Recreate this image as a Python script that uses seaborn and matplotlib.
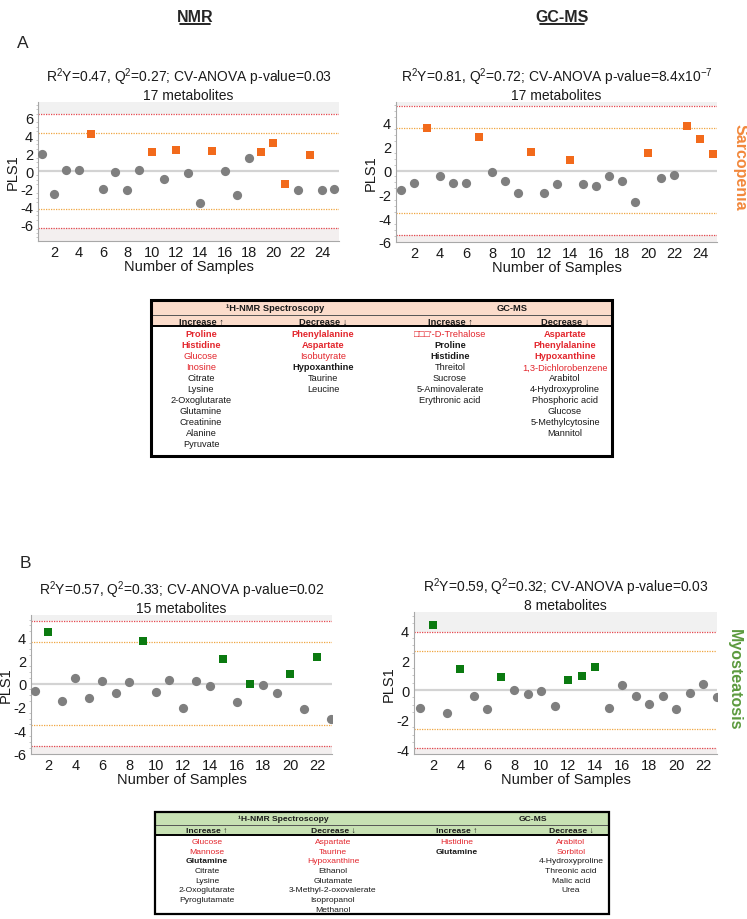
import seaborn as sns
import numpy as np
import pandas as pd
import matplotlib.pyplot as plt
from matplotlib.patches import Rectangle
from matplotlib.ticker import AutoMinorLocator

#---------- DATA ----------
#PLS1 scores (sample 1..n)
nmr_sarc = [1.95, -2.62, 0.15, 0.15, 4.16, -2.02, -0.07, -2.13, 0.15, 2.10, -0.94, 2.40, -0.19,
            -3.63, 2.25, 0.04, -2.70, 1.46, 2.13, 3.22, -1.46, -2.17, 1.87, -2.17, -2.06]
nmr_sarc_cases = [5, 10, 12, 15, 19, 20, 21, 23]

gcms_sarc = [-1.62, -1.07, 3.59, -0.47, -1.07, -1.04, 2.82, -0.16, -0.90, -1.92, 1.59, -1.89, -1.12,
             0.85, -1.12, -1.32, -0.49, -0.88, -2.63, 1.51, -0.60, -0.41, 3.75, 2.63, 1.42]
gcms_sarc_cases = [3, 7, 11, 14, 20, 23, 24, 25]

nmr_myo = [-0.63, 4.43, -1.46, 0.46, -1.20, 0.20, -0.80, 0.11, 3.69, -0.74, 0.31, -2.11, 0.20,
           -0.23, 2.09, -1.57, -0.03, -0.14, -0.83, 0.83, -2.17, 2.26, -3.03]
nmr_myo_cases = [2, 9, 15, 17, 20, 22]

gcms_myo = [-1.18, 4.39, -1.52, 1.45, -0.39, -1.27, 0.89, 0.02, -0.27, -0.09, -1.07, 0.70, 0.93,
            1.52, -1.23, 0.36, -0.39, -0.95, -0.43, -1.27, -0.23, 0.43, -0.45]
gcms_myo_cases = [2, 4, 7, 12, 13, 14]

#Model summaries shown as panel titles
title_nmr_sarc = "R$^2$Y=0.47, Q$^2$=0.27; CV-ANOVA p-value=0.03\n17 metabolites"
title_gcms_sarc = "R$^2$Y=0.81, Q$^2$=0.72; CV-ANOVA p-value=8.4x10$^{-7}$\n17 metabolites"
title_nmr_myo = "R$^2$Y=0.57, Q$^2$=0.33; CV-ANOVA p-value=0.02\n15 metabolites"
title_gcms_myo = "R$^2$Y=0.59, Q$^2$=0.32; CV-ANOVA p-value=0.03\n8 metabolites"

#Tables: metabolite names and style codes (rb = red bold, r = red, b = bold, "" = plain)
col_heads = ["Increase \u2191", "Decrease \u2193", "Increase \u2191", "Decrease \u2193"]
group_heads = ["\u00b9H-NMR Spectroscopy", "GC-MS"]

sarc_nmr_up = ["Proline", "Histidine", "Glucose", "Inosine", "Citrate", "Lysine", "2-Oxoglutarate",
               "Glutamine", "Creatinine", "Alanine", "Pyruvate"]
sarc_nmr_up_st = ["rb", "rb", "r", "r", "", "", "", "", "", "", ""]
sarc_nmr_down = ["Phenylalanine", "Aspartate", "Isobutyrate", "Hypoxanthine", "Taurine", "Leucine"]
sarc_nmr_down_st = ["rb", "rb", "r", "b", "", ""]
sarc_gc_up = ["\u25a1\u25a1\u25a1'-D-Trehalose", "Proline", "Histidine", "Threitol", "Sucrose",
              "5-Aminovalerate", "Erythronic acid"]
sarc_gc_up_st = ["r", "b", "b", "", "", "", ""]
sarc_gc_down = ["Aspartate", "Phenylalanine", "Hypoxanthine", "1,3-Dichlorobenzene", "Arabitol",
                "4-Hydroxyproline", "Phosphoric acid", "Glucose", "5-Methylcytosine", "Mannitol"]
sarc_gc_down_st = ["rb", "rb", "rb", "r", "", "", "", "", "", ""]

myo_nmr_up = ["Glucose", "Mannose", "Glutamine", "Citrate", "Lysine", "2-Oxoglutarate", "Pyroglutamate"]
myo_nmr_up_st = ["r", "r", "b", "", "", "", ""]
myo_nmr_down = ["Aspartate", "Taurine", "Hypoxanthine", "Ethanol", "Glutamate",
                "3-Methyl-2-oxovalerate", "Isopropanol", "Methanol"]
myo_nmr_down_st = ["r", "r", "r", "", "", "", "", ""]
myo_gc_up = ["Histidine", "Glutamine"]
myo_gc_up_st = ["r", "b"]
myo_gc_down = ["Arabitol", "Sorbitol", "4-Hydroxyproline", "Threonic acid", "Malic acid", "Urea"]
myo_gc_down_st = ["r", "r", "", "", "", ""]

#---------- STYLE ----------
sns.set_style("white")
plt.rcParams['font.family'] = ['Liberation Sans', 'DejaVu Sans']
plt.rcParams['mathtext.fontset'] = 'custom'
plt.rcParams['mathtext.rm'] = 'Liberation Sans'
plt.rcParams['mathtext.it'] = 'Liberation Sans:italic'
plt.rcParams['axes.unicode_minus'] = False

ORANGE = "#f26a1b"
GREEN = "#0b7a10"
W, H = 747, 920

fig = plt.figure(figsize=(W / 100, H / 100), dpi=100)

#Overlay axes in pixel units for the tables and labels
ov = fig.add_axes([0, 0, 1, 1])
ov.set_xlim(0, W)
ov.set_ylim(H, 0)
ov.axis('off')


def px_rect(x0, y0, x1, y1):
    return [x0 / W, 1 - y1 / H, (x1 - x0) / W, (y1 - y0) / H]


def score_panel(box, values, cases, color, orange, red, ylim, xlim, xticks, yticks, title):
    ax = fig.add_axes(px_rect(*box))
    df = pd.DataFrame({"sample": np.arange(1, len(values) + 1), "pls1": values})
    df["case"] = df["sample"].isin(cases)

    #grey areas outside the red limits
    ax.axhspan(red, ylim[1], color="#f1f1f1", lw=0, zorder=0)
    ax.axhspan(ylim[0], -red, color="#f3efef", lw=0, zorder=0)
    ax.axhline(0, color="#d3d3d3", lw=1.6, zorder=1)
    for lv in (orange, -orange):
        ax.axhline(lv, color="#f0a640", lw=0.9, ls=(0, (1, 1)), zorder=1)
    for lv in (red, -red):
        ax.axhline(lv, color="#e5474d", lw=0.9, ls=(0, (1, 1)), zorder=1)

    sns.scatterplot(data=df[~df["case"]], x="sample", y="pls1", color="#7f7f7f", marker="o",
                    s=44, linewidth=0, ax=ax, zorder=3)
    sns.scatterplot(data=df[df["case"]], x="sample", y="pls1", color=color, marker="s",
                    s=32, linewidth=0, ax=ax, zorder=3)

    ax.set_xlim(*xlim)
    ax.set_ylim(*ylim)
    ax.set_xticks(xticks)
    ax.set_yticks(yticks)
    ax.yaxis.set_minor_locator(AutoMinorLocator(4))
    ax.tick_params(axis="both", labelsize=10.5, colors="#9a9a9a", labelcolor="#1a1a1a",
                   length=2, width=0.6, pad=1.5)
    ax.tick_params(axis="y", which="minor", length=1.5, width=0.5, colors="#b0b0b0", left=True)
    ax.tick_params(axis="x", length=0, pad=3)
    ax.set_xlabel("Number of Samples", fontsize=10.5, labelpad=0, color="#1a1a1a")
    ax.set_ylabel("PLS1", fontsize=10.5, labelpad=0, color="#1a1a1a")
    ax.set_title(title, fontsize=10, pad=2, linespacing=1.15, color="#1a1a1a")
    sns.despine(ax=ax)
    for side in ("left", "bottom"):
        ax.spines[side].set_color("#a8a8a8")
        ax.spines[side].set_linewidth(0.8)
    ax.set_facecolor("white")
    return ax


score_panel((38, 103, 339, 242), nmr_sarc, nmr_sarc_cases, ORANGE, 4.3, 6.42,
            (-7.9, 7.8), (0.66, 25.4), range(2, 25, 2), range(-6, 7, 2), title_nmr_sarc)
score_panel((396, 103, 717, 243), gcms_sarc, gcms_sarc_cases, ORANGE, 3.56, 5.38,
            (-6.0, 5.75), (0.6, 25.3), range(2, 25, 2), range(-6, 5, 2), title_gcms_sarc)
score_panel((31, 616, 332, 755), nmr_myo, nmr_myo_cases, GREEN, 3.59, 5.37,
            (-6.05, 5.9), (0.7, 23.1), range(2, 23, 2), range(-6, 5, 2), title_nmr_myo)
score_panel((414, 613, 717, 755), gcms_myo, gcms_myo_cases, GREEN, 2.6, 3.9,
            (-4.3, 5.25), (0.58, 23.0), range(2, 23, 2), range(-4, 5, 2), title_gcms_myo)

#Column headers, panel letters and side labels
narrow = ['Liberation Sans Narrow', 'Liberation Sans', 'DejaVu Sans']
for x, label in ((195, "NMR"), (562, "GC-MS")):
    ov.text(x, 17, label, ha="center", va="center", fontsize=11.5, fontweight="bold",
            family=narrow)
ov.plot([180, 210], [25, 25], color="black", lw=1.2)
ov.plot([540, 584], [25, 25], color="black", lw=1.2)
ov.text(23, 43, "A", ha="center", va="center", fontsize=12.5, family=narrow)
ov.text(25, 564, "B", ha="center", va="center", fontsize=12.5, family=narrow)
ov.text(740, 167, "Sarcopenia", rotation=-90, ha="center", va="center", fontsize=11.5,
        fontweight="bold", color="#f2883c")
ov.text(734, 680, "Myosteatosis", rotation=-90, ha="center", va="center", fontsize=11.5,
        fontweight="bold", color="#5c9a3e")


def draw_table(frame, lines, fill, group_x, col_x, row0, dy, cols, styles, fs, border):
    left, top, right, bottom = frame
    h1, h2 = lines
    ov.add_patch(Rectangle((left, top), right - left, h2 - top, color=fill, lw=0, zorder=1))
    ov.plot([left, right], [h1, h1], color="#555555", lw=0.7, zorder=2)
    ov.plot([left, right], [h2, h2], color="black", lw=1.4, zorder=2)
    ov.add_patch(Rectangle((left, top), right - left, bottom - top, fill=False,
                           edgecolor="black", lw=border, zorder=3))
    for gx, g in zip(group_x, group_heads):
        ov.text(gx, (top + h1) / 2 + 0.5, g, ha="center", va="center", fontsize=fs,
                fontweight="bold", color="#1a1a1a")
    for cx, c in zip(col_x, col_heads):
        ov.text(cx, (h1 + h2) / 2 + 0.5, c, ha="center", va="center", fontsize=fs,
                fontweight="bold", color="#1a1a1a")
    for cx, names, sts in zip(col_x, cols, styles):
        for i, (name, st) in enumerate(zip(names, sts)):
            ov.text(cx, row0 + i * dy, name, ha="center", va="center", fontsize=fs,
                    fontweight="bold" if "b" in st else "normal",
                    color="#e3262d" if "r" in st else "#1a1a1a")


draw_table((151, 301, 612, 457), (315.7, 327), "#fbdccb", (275, 512), (201, 323, 450, 565),
           335, 11.0,
           [sarc_nmr_up, sarc_nmr_down, sarc_gc_up, sarc_gc_down],
           [sarc_nmr_up_st, sarc_nmr_down_st, sarc_gc_up_st, sarc_gc_down_st], 6.7, 2.2)
draw_table((155, 813, 609, 915), (825.7, 836), "#c7e1b3", (283, 533), (207, 333, 457, 571),
           842.7, 9.63,
           [myo_nmr_up, myo_nmr_down, myo_gc_up, myo_gc_down],
           [myo_nmr_up_st, myo_nmr_down_st, myo_gc_up_st, myo_gc_down_st], 6.1, 1.6)

fig.savefig("out.png", dpi=100)
